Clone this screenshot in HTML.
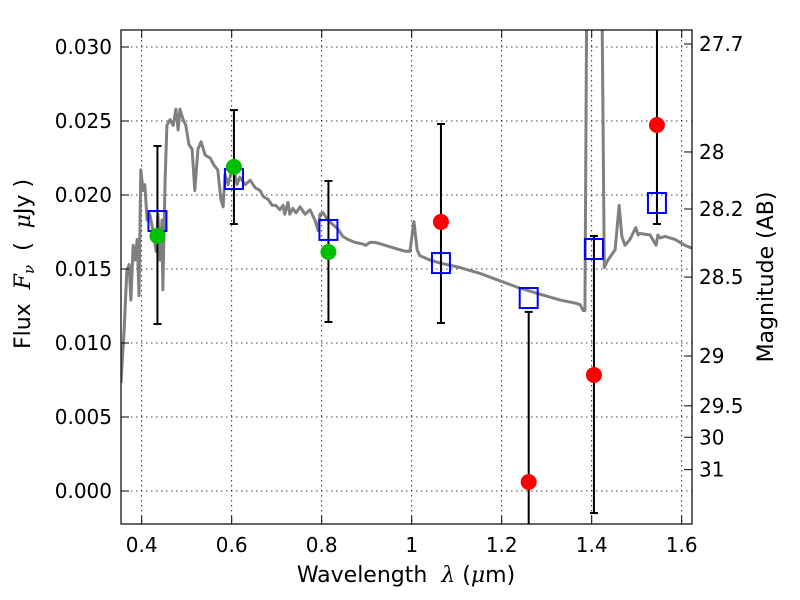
<!DOCTYPE html>
<html><head><meta charset="utf-8"><style>
html,body{margin:0;padding:0;background:#fff;overflow:hidden;width:800px;height:600px}
svg{display:block}
text{font-family:"DejaVu Sans","Liberation Sans",sans-serif;fill:#000}
</style></head><body>
<svg id="chart" width="800" height="600" xmlns="http://www.w3.org/2000/svg">
<defs><clipPath id="clip"><rect x="121" y="30" width="571" height="494"/></clipPath></defs>
<g id="grid"></g>
<g id="marks" clip-path="url(#clip)"></g>
<rect x="121" y="30" width="571" height="494" fill="none" stroke="#000" stroke-width="1.2"/>
<g id="axes"></g>
<text x="406" y="582" font-size="22" text-anchor="middle" xml:space="preserve">Wavelength  <tspan font-family="DejaVu Serif" font-style="italic">λ</tspan> (<tspan font-family="DejaVu Serif" font-style="italic">μ</tspan>m)</text>
<text transform="translate(30,264) rotate(-90)" font-size="22" text-anchor="middle" xml:space="preserve">Flux  <tspan font-family="DejaVu Serif" font-style="italic">F<tspan font-size="15" dy="4">ν</tspan></tspan><tspan dy="-4">  (  </tspan><tspan font-family="DejaVu Serif" font-style="italic">μ</tspan>Jy )</text>
<text transform="translate(773,277) rotate(-90)" font-size="22" text-anchor="middle">Magnitude (AB)</text>
</svg>
<script>
const specWave=[0.354,0.361,0.367,0.372,0.376,0.381,0.385,0.390,0.394,0.398,0.403,0.407,0.412,0.418,0.425,0.432,0.436,0.441,0.445,0.447,0.452,0.456,0.463,0.470,0.476,0.481,0.485,0.492,0.498,0.505,0.512,0.518,0.525,0.532,0.541,0.552,0.561,0.569,0.576,0.581,0.585,0.592,0.598,0.605,0.612,0.618,0.630,0.641,0.652,0.663,0.670,0.681,0.690,0.698,0.707,0.714,0.718,0.725,0.729,0.736,0.743,0.752,0.763,0.774,0.785,0.792,0.796,0.803,0.814,0.825,0.836,0.847,0.858,0.874,0.890,0.898,0.907,0.918,0.930,0.941,0.963,0.985,0.996,1.005,1.012,1.018,1.041,1.063,1.107,1.152,1.196,1.241,1.285,1.330,1.363,1.374,1.381,1.385,1.392,1.418,1.428,1.436,1.452,1.461,1.467,1.474,1.485,1.498,1.503,1.507,1.530,1.543,1.547,1.552,1.563,1.585,1.607,1.623];
const specFlux=[0.0073,0.0109,0.0149,0.0153,0.0129,0.0166,0.0156,0.0170,0.0132,0.0217,0.0203,0.0207,0.0183,0.0187,0.0176,0.0162,0.0187,0.0156,0.0183,0.0136,0.0210,0.0247,0.0251,0.0247,0.0258,0.0244,0.0258,0.0251,0.0247,0.0234,0.0231,0.0203,0.0231,0.0236,0.0227,0.0225,0.0220,0.0217,0.0197,0.0192,0.0214,0.0207,0.0214,0.0217,0.0207,0.0212,0.0207,0.0210,0.0205,0.0203,0.0199,0.0197,0.0193,0.0193,0.0190,0.0193,0.0187,0.0195,0.0187,0.0191,0.0188,0.0192,0.0187,0.0190,0.0183,0.0176,0.0187,0.0188,0.0183,0.0180,0.0177,0.0172,0.0170,0.0168,0.0167,0.0166,0.0168,0.0168,0.0167,0.0166,0.0164,0.0162,0.0162,0.0182,0.0163,0.0159,0.0156,0.0154,0.0151,0.0147,0.0142,0.0137,0.0133,0.0129,0.0127,0.0126,0.0122,0.0122,0.05,0.05,0.0151,0.0156,0.0163,0.0193,0.0172,0.0166,0.0170,0.0178,0.0173,0.0174,0.0173,0.0166,0.0173,0.0171,0.0172,0.0170,0.0166,0.0164];
const greenWave=[0.435,0.605,0.815];
const greenFlux=[0.01723,0.0219,0.01615];
const redWave=[1.065,1.26,1.405,1.545];
const redFlux=[0.01818,0.00061,0.00784,0.02473];
const boxWave=[0.435,0.605,0.815,1.065,1.26,1.405,1.545];
const boxFlux=[0.01824,0.02108,0.01764,0.0154,0.01304,0.01635,0.01946];
const errWave=[0.435,0.605,0.815,1.065,1.26,1.405,1.545];
const errLo=[0.01128,0.01804,0.01142,0.01135,-0.01,-0.00149,0.01804];
const errHi=[0.02331,0.02574,0.02095,0.0248,0.0121,0.01723,0.05];
const xTicks=[0.4,0.6,0.8,1.0,1.2,1.4,1.6];
const xTickLabels=["0.4","0.6","0.8","1","1.2","1.4","1.6"];
const yTicks=[0,0.005,0.01,0.015,0.02,0.025,0.03];
const yTickLabels=["0.000","0.005","0.010","0.015","0.020","0.025","0.030"];
const magTicks=[27.7,28,28.2,28.5,29,29.5,30,31];
const magLabels=["27.7","28","28.2","28.5","29","29.5","30","31"];

const X=v=>141.7+(v-0.4)*450;
const Y=v=>491-v*14800;
const NS="http://www.w3.org/2000/svg";
function mk(tag,attrs,parent){const e=document.createElementNS(NS,tag);for(const k in attrs)e.setAttribute(k,attrs[k]);parent.appendChild(e);return e;}
const grid=document.getElementById('grid'),marks=document.getElementById('marks'),axes=document.getElementById('axes');
xTicks.forEach((t,i)=>{
  const l=mk('line',{x1:X(t),x2:X(t),y1:30,y2:524,stroke:'#000','stroke-width':0.8,'stroke-dasharray':'1.5,3.5'},grid);
  
  
  mk('line',{x1:X(t),x2:X(t),y1:524,y2:516,stroke:'#000'},axes);
  mk('line',{x1:X(t),x2:X(t),y1:30,y2:38,stroke:'#000'},axes);
  const tx=mk('text',{x:X(t),y:552,'font-size':20,'text-anchor':'middle'},axes);
  tx.textContent=xTickLabels[i];
  
  
});
yTicks.forEach((t,i)=>{
  const l=mk('line',{x1:121,x2:692,y1:Y(t),y2:Y(t),stroke:'#000','stroke-width':0.8,'stroke-dasharray':'1.5,3.5'},grid);
  
  
  mk('line',{x1:121,x2:129,y1:Y(t),y2:Y(t),stroke:'#000'},axes);
  const tx=mk('text',{x:112,y:Y(t)+7,'font-size':20,'text-anchor':'end'},axes);
  tx.textContent=yTickLabels[i];
  
  
});
magTicks.forEach((m,i)=>{
  const y=Y(Math.pow(10,(23.9-m)/2.5));
  mk('line',{x1:684,x2:692,y1:y,y2:y,stroke:'#000'},axes);
  const tx=mk('text',{x:699,y:y+7,'font-size':20},axes);
  tx.textContent=magLabels[i];
  
  
});
const sp=mk('polyline',{points:specWave.map((w,i)=>X(w)+','+Y(specFlux[i])).join(' '),fill:'none',stroke:'#808080','stroke-width':3,'stroke-linejoin':'round'},marks);


errWave.forEach((w,i)=>{
  const x=X(w);
  const g=mk('g',{stroke:'#000','stroke-width':2},marks);
  
  
  mk('line',{x1:x,x2:x,y1:Y(errLo[i]),y2:Y(errHi[i])},g);
  mk('line',{x1:x-4,x2:x+4,y1:Y(errLo[i]),y2:Y(errLo[i])},g);
  mk('line',{x1:x-4,x2:x+4,y1:Y(errHi[i]),y2:Y(errHi[i])},g);
});
boxWave.forEach((w,i)=>{
  const r=mk('rect',{x:X(w)-9,y:Y(boxFlux[i])-10,width:18,height:20,fill:'none',stroke:'#0000ff','stroke-width':2},marks);
  
  
});
greenWave.forEach((w,i)=>{
  const c=mk('circle',{cx:X(w),cy:Y(greenFlux[i]),r:8,fill:'#00bf00'},marks);
  
  
});
redWave.forEach((w,i)=>{
  const c=mk('circle',{cx:X(w),cy:Y(redFlux[i]),r:8,fill:'#ff0000'},marks);
  
  
});
</script>
</body></html>
